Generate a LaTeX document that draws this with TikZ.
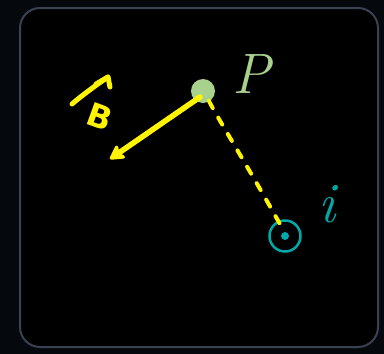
\documentclass[tikz,border=0pt]{standalone}
\usepackage{fontspec}
\newfontfamily\handfont{DejaVu Sans}
\usetikzlibrary{arrows.meta}
\definecolor{outerbg}{HTML}{05090D}
\definecolor{framecol}{HTML}{3A4150}
\definecolor{pgreen}{HTML}{A9D18E}
\definecolor{hyellow}{HTML}{FFF500}
\definecolor{iteal}{HTML}{00A8A8}
\tikzset{
  pen/.style={hyellow, line width=5.5pt, line cap=round, line join=round},
  dashpen/.style={hyellow, line width=4pt, line cap=round, dash pattern=on 8pt off 11pt},
  biglabel/.style={font=\fontsize{57}{60}\selectfont\itshape},
  handlabel/.style={font=\fontsize{32}{34}\selectfont\handfont\bfseries},
}
\begin{document}
\begin{tikzpicture}[x=1pt,y=-1pt]
\useasboundingbox (0,0) rectangle (384,354);
\fill[outerbg] (0,0) rectangle (384,354);
\draw[framecol, line width=2pt, fill=black, rounded corners=20pt] (20,8) rectangle (378,347);
% point P
\node[circle, fill=pgreen, inner sep=0pt, minimum size=24pt] (P) at (203,91) {};
\node[biglabel, text=pgreen] (Plab) at (251,74) {P};
% current i
\node[circle, draw=iteal, line width=2.5pt, inner sep=0pt, minimum size=31pt] (I) at (285,236) {};
\node[circle, fill=iteal, inner sep=0pt, minimum size=8pt] (Idot) at (285,236) {};
\node[biglabel, text=iteal] (Ilab) at (327,204) {i};
% B arrow
\coordinate (a0) at (200,97);
\coordinate (a1) at (110,159);
\draw[pen, -{Stealth[length=17pt,width=19pt,round,inset=4pt]}] (a0) -- (a1);
% dashed line
\coordinate (d0) at (209,101);
\coordinate (d1) at (281,226);
\draw[dashpen] (d0) .. controls (214,112) and (250,170) .. (d1);
% hand-drawn B direction sign
\coordinate (h0) at (72,104);
\coordinate (h1) at (108,77);
\draw[pen, line width=5pt] (h0) .. controls (80,97) and (96,85) .. (h1);
\draw[pen, line width=5pt] (96,84) -- (h1) -- (110,87);
\node[hyellow, handlabel, rotate=-20] (Bl) at (100,117) {B};
\end{tikzpicture}
\end{document}
